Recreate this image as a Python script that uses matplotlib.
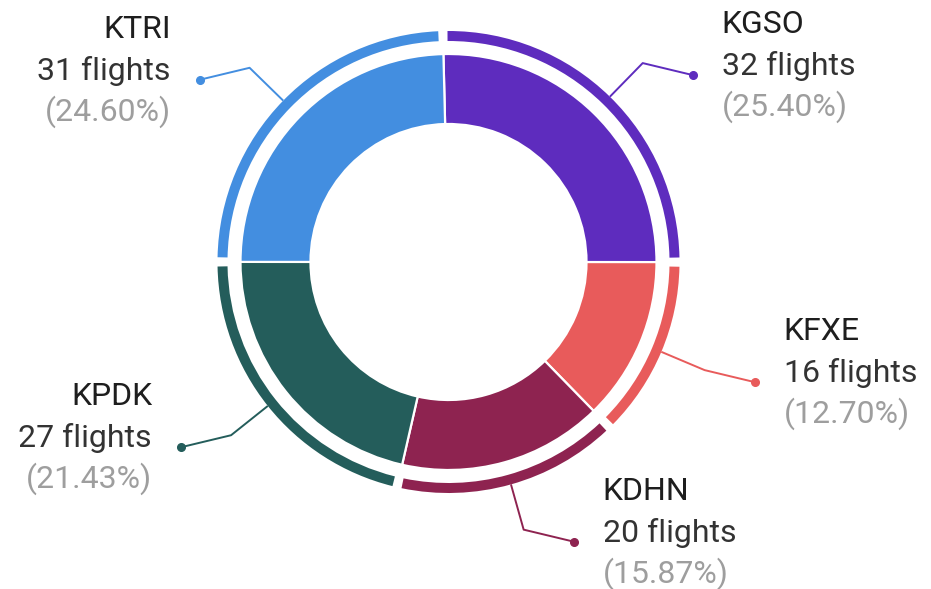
import matplotlib
matplotlib.use("Agg")
import matplotlib.pyplot as plt
import numpy as np
from matplotlib.patches import Wedge

# data
airports = ["KGSO", "KFXE", "KDHN", "KPDK", "KTRI"]
flights = [32, 16, 20, 27, 31]
colors = ["#5E2CBE", "#E85B5B", "#8E2350", "#245D5B", "#438EE0"]

plt.rcParams['font.family'] = ['Roboto', 'DejaVu Sans']

W, H = 931, 589
fig = plt.figure(figsize=(W / 100, H / 100), dpi=100)
ax = fig.add_axes([0, 0, 1, 1])

# donut geometry in pixel units (y up)
cx, cy = 448.5, H - 262
r_main, w_main = 208, 70
r_outer, w_outer = 231, 10
start_ang = 91.4
gap = 1.15  # half of angular gap on outer ring (deg)

ax.pie(flights, colors=colors, startangle=start_ang, counterclock=False,
       radius=r_main, center=(cx, cy),
       wedgeprops=dict(width=w_main, edgecolor='white', linewidth=1.6))

total = float(sum(flights))
cum = np.concatenate([[0], np.cumsum(flights)]) / total * 360.0
for i, c in enumerate(colors):
    start = start_ang - cum[i]
    end = start_ang - cum[i + 1]
    ax.add_patch(Wedge((cx, cy), r_outer, end + gap, start - gap,
                       width=w_outer, facecolor=c, edgecolor='none'))

    # leader line + labels
    mid = np.deg2rad((start + end) / 2)
    dx, dy = np.cos(mid), np.sin(mid)
    side = 1 if dx >= 0 else -1
    p0 = (cx + r_outer * dx, cy + r_outer * dy)
    p1 = (cx + 278 * dx, cy + 278 * dy)
    p2 = (p1[0] + 50 * side, p1[1] - 12)
    ax.plot([p0[0], p1[0], p2[0]], [p0[1], p1[1], p2[1]], color=c, lw=1.4,
            solid_capstyle='butt')
    ax.plot(p2[0], p2[1], 'o', color=c, markersize=5.5)

    tx = p2[0] + 29 * side
    ha = 'left' if side > 0 else 'right'
    pct = flights[i] / total * 100
    ax.text(tx, p2[1] + 42, airports[i], ha=ha, va='baseline',
            fontsize=23, color='#1E1E1E')
    ax.text(tx, p2[1], f"{flights[i]} flights", ha=ha, va='baseline',
            fontsize=23, color='#333333')
    ax.text(tx, p2[1] - 41, f"({pct:.2f}%)", ha=ha, va='baseline',
            fontsize=23, color='#9E9E9E')

ax.set_xlim(0, W)
ax.set_ylim(0, H)
ax.set_aspect('equal')
ax.axis('off')

fig.savefig("out.png", dpi=100, facecolor='white')
